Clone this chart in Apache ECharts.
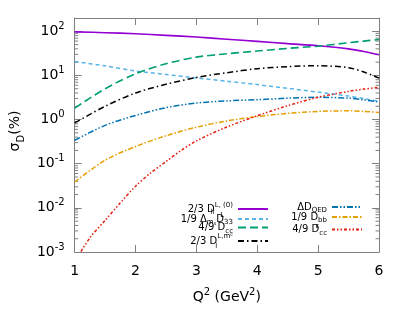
<!DOCTYPE html>
<html>
<head>
<meta charset="utf-8">
<script src="https://cdn.jsdelivr.net/npm/echarts@6/dist/echarts.min.js"></script>
<style>
  html, body { margin: 0; padding: 0; background: #fff; }
  #chart { width: 407px; height: 326px; }
</style>
</head>
<body>
<div id="chart"></div>
<script>
// Q^2 sample points
const qMain = [1, 1.5, 2, 2.5, 3, 3.5, 4, 4.5, 5, 5.5, 5.75, 6];
const qRed = [1, 1.25, 1.5, 1.75, 2, 2.25, 2.5, 2.75, 3, 3.5, 4, 4.5, 5, 5.5, 5.75, 6];

// sigma_D (%) contributions
const dll0 = [97, 93, 88, 81, 74, 66, 59, 52.5, 47, 40, 35, 29.5];
const d33 = [20.7, 16.5, 12.6, 10.5, 8.8, 7.4, 6.2, 5.1, 4.2, 3.4, 3.0, 2.6];
const dcc = [1.82, 5.0, 10.9, 18.4, 26, 31, 35.7, 41, 46, 55, 60, 65];
const dlmc = [0.84, 2.0, 4.0, 6.3, 9.0, 11.5, 14.2, 15.8, 16.6, 15.0, 12.0, 8.7];
const dqed = [0.34, 0.74, 1.24, 1.86, 2.37, 2.65, 2.82, 3.05, 3.2, 3.05, 2.8, 2.5];
const dbb = [0.0385, 0.12, 0.245, 0.43, 0.67, 0.93, 1.17, 1.38, 1.53, 1.58, 1.53, 1.45];
const dcce = [0.0006, 0.0021, 0.0052, 0.013, 0.031, 0.062, 0.112, 0.2, 0.33, 0.68, 1.22, 2.06, 3.2, 4.35, 4.9, 5.4];

// tick labels
const xTicks = [1, 2, 3, 4, 5, 6];
const yTickExps = [-3, -2, -1, 0, 1, 2];

// legend labels (rich text); z* tokens take no width so sub and sup stack
const names = {
  dll0: '{n|2/3 D}{zsub|ll}{sup|L, (0)}',
  d33: '{n|1/9 Δ}{sub|m}{ss|s}{n|D}{zsup|L}{sub|33}',
  dcc: '{n|4/9 D}{sub|cc}',
  dlmc: '{n|2/3 D}{zsub|l}{sup|L,m}{ssup|c}',
  dqed: '{n|ΔD}{sub|QED}',
  dbb: '{n|1/9 D}{sub|bb}',
  dcce: '{n|4/9 D}{zsup|ε}{sub|cc}'
};

const frame = '#808080';
const font = 'DejaVu Sans';

function pairs(xs, ys) {
  return xs.map((x, i) => [x, ys[i]]);
}

// minor ticks on the log axis (2..9 x 10^n)
let minor = [];
for (let i = 0; i < yTickExps.length - 1; i++) {
  for (let k = 2; k <= 9; k++) {
    minor.push([1, k * Math.pow(10, yTickExps[i])]);
  }
}

const seriesDefs = [
  { key: 'dll0', data: pairs(qMain, dll0), color: '#9400d3', type: 'solid', width: 1.6 },
  { key: 'd33', data: pairs(qMain, d33), color: '#56b4e9', type: [4, 3], width: 1.5 },
  { key: 'dcc', data: pairs(qMain, dcc), color: '#009e73', type: [8, 4], width: 1.6 },
  { key: 'dlmc', data: pairs(qMain, dlmc), color: '#000000', type: [6, 3, 1.5, 3], width: 1.5 },
  { key: 'dqed', data: pairs(qMain, dqed), color: '#0072b2', type: [6, 2, 1.5, 2, 1.5, 2], width: 1.5 },
  { key: 'dbb', data: pairs(qMain, dbb), color: '#e69f00', type: [5, 2, 1.5, 2], width: 1.5 },
  { key: 'dcce', data: pairs(qRed, dcce), color: '#e51e10', type: [3, 2, 1.5, 2, 1.5, 2], width: 1.5 }
];

let series = seriesDefs.map((s) => ({
  name: s.key,
  type: 'line',
  data: s.data,
  smooth: 0.3,
  symbol: 'none',
  color: s.color,
  lineStyle: { color: s.color, width: s.width, type: s.type },
  z: 3
}));

series.push({
  type: 'custom',
  data: minor,
  silent: true,
  renderItem: function (params, api) {
    const v = api.value(1);
    const l = api.coord([1, v]);
    const r = api.coord([6, v]);
    return {
      type: 'group',
      children: [
        { type: 'line', shape: { x1: l[0], y1: l[1], x2: l[0] + 3.5, y2: l[1] }, style: { stroke: frame, lineWidth: 1 } },
        { type: 'line', shape: { x1: r[0], y1: r[1], x2: r[0] - 3.5, y2: r[1] }, style: { stroke: frame, lineWidth: 1 } }
      ]
    };
  },
  z: 2
});

const legendRich = {
  n: { fontFamily: font, fontSize: 10, color: '#000', lineHeight: 14 },
  sub: { fontFamily: font, fontSize: 7, color: '#000', verticalAlign: 'bottom', lineHeight: 14 },
  zsub: { fontFamily: font, fontSize: 7, color: '#000', verticalAlign: 'bottom', lineHeight: 14, width: 0.1 },
  ss: { fontFamily: font, fontSize: 5, color: '#000', verticalAlign: 'bottom', lineHeight: 12 },
  sup: { fontFamily: font, fontSize: 7, color: '#000', verticalAlign: 'top', lineHeight: 14 },
  zsup: { fontFamily: font, fontSize: 7, color: '#000', verticalAlign: 'top', lineHeight: 14, width: 0.1 },
  ssup: { fontFamily: font, fontSize: 5, color: '#000', verticalAlign: 'top', lineHeight: 17 }
};

const legendPos = [
  { key: 'dll0', right: 138, y: 209 },
  { key: 'd33', right: 138, y: 219 },
  { key: 'dcc', right: 138, y: 229.5 },
  { key: 'dlmc', right: 138, y: 239.5 },
  { key: 'dqed', right: 44, y: 209 },
  { key: 'dbb', right: 44, y: 219 },
  { key: 'dcce', right: 44, y: 229.5 }
];

const legends = legendPos.map((p) => ({
  data: [p.key],
  right: p.right,
  top: p.y - 7,
  padding: 0,
  align: 'right',
  itemWidth: 30,
  itemHeight: 10,
  selectedMode: false,
  itemStyle: { opacity: 0 },
  formatter: (name) => names[name],
  textStyle: { rich: legendRich }
}));

const axisCommonY = {
  type: 'log',
  min: 0.001,
  max: 200,
  logBase: 10,
  axisLine: { show: true, lineStyle: { color: frame, width: 1 } },
  axisTick: { show: true, inside: true, length: 7, lineStyle: { color: frame } },
  splitLine: { show: false }
};

const axisCommonX = {
  type: 'value',
  min: 1,
  max: 6,
  interval: 1,
  axisLine: { show: true, onZero: false, lineStyle: { color: frame, width: 1 } },
  axisTick: { show: true, inside: true, length: 7, lineStyle: { color: frame } },
  splitLine: { show: false }
};

const option = {
  animation: false,
  backgroundColor: '#fff',
  grid: { left: 71, top: 18, right: 28, bottom: 74 },
  legend: legends,
  xAxis: [
    Object.assign({}, axisCommonX, {
      position: 'bottom',
      name: '{n|Q}{sup|2}{n| (GeV}{sup|2}{n|)}',
      nameLocation: 'middle',
      nameGap: 35,
      nameTextStyle: {
        rich: {
          n: { fontFamily: font, fontSize: 14, color: '#000', lineHeight: 20 },
          sup: { fontFamily: font, fontSize: 10, color: '#000', verticalAlign: 'top', lineHeight: 20 }
        }
      },
      axisLabel: {
        margin: 12,
        fontFamily: font,
        fontSize: 14,
        color: '#000',
        formatter: (v) => (xTicks.indexOf(v) >= 0 ? String(v) : '')
      }
    }),
    Object.assign({}, axisCommonX, {
      position: 'top',
      axisLabel: { show: false }
    })
  ],
  yAxis: [
    Object.assign({}, axisCommonY, {
      position: 'left',
      name: '{n|σ}{sub|D}{n|(%)}',
      nameLocation: 'middle',
      nameGap: 45,
      nameTextStyle: {
        padding: [0, 0, 0, 8],
        rich: {
          n: { fontFamily: font, fontSize: 14, color: '#000', lineHeight: 20 },
          sub: { fontFamily: font, fontSize: 10, color: '#000', verticalAlign: 'bottom', lineHeight: 22 }
        }
      },
      axisLabel: {
        margin: 10,
        formatter: function (v) {
          const n = Math.round(Math.log10(v));
          if (yTickExps.indexOf(n) < 0 || Math.abs(v / Math.pow(10, n) - 1) > 1e-6) return '';
          return '{b|10}{sup|' + n + '}';
        },
        rich: {
          b: { fontFamily: font, fontSize: 14, color: '#000', lineHeight: 20 },
          sup: { fontFamily: font, fontSize: 10, color: '#000', verticalAlign: 'top', lineHeight: 20 }
        }
      }
    }),
    Object.assign({}, axisCommonY, {
      position: 'right',
      axisLabel: { show: false }
    })
  ],
  series: series
};

const chart = echarts.init(document.getElementById('chart'));
chart.setOption(option);
</script>
</body>
</html>
